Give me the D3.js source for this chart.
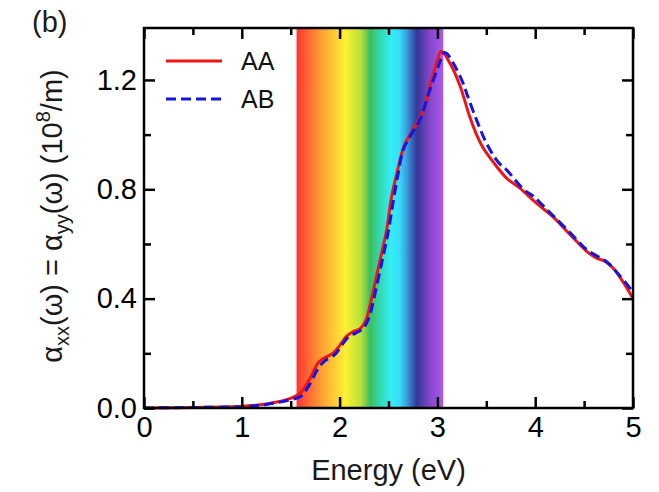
<!DOCTYPE html>
<html>
<head>
<meta charset="utf-8">
<script src="https://cdn.jsdelivr.net/npm/d3@7"></script>
<style>
  html, body { margin: 0; padding: 0; background: #fff; }
  svg { display: block; font-family: "Liberation Sans", Arial, Helvetica, sans-serif; }
</style>
</head>
<body>
<svg id="chart" width="659" height="492"></svg>
<script>
// Absorption coefficient spectra of AA- and AB-stacked bilayers
const energyAA = [0, 0.5, 1.0, 1.25, 1.5, 1.6, 1.7, 1.78, 1.83, 1.93, 2.0, 2.07, 2.14, 2.21, 2.27, 2.32, 2.4, 2.48, 2.53, 2.58, 2.62, 2.66, 2.75, 2.86, 2.94, 2.99, 3.04, 3.13, 3.23, 3.33, 3.4, 3.47, 3.57, 3.71, 3.84, 4.01, 4.18, 4.36, 4.53, 4.62, 4.72, 4.8, 4.9, 5.0];
const alphaAA  = [0, 0.002, 0.006, 0.015, 0.035, 0.055, 0.11, 0.165, 0.18, 0.2, 0.228, 0.262, 0.28, 0.29, 0.322, 0.39, 0.52, 0.65, 0.77, 0.85, 0.91, 0.96, 1.017, 1.09, 1.2, 1.26, 1.305, 1.26, 1.18, 1.066, 1.0, 0.95, 0.9, 0.84, 0.805, 0.75, 0.7, 0.633, 0.572, 0.55, 0.535, 0.51, 0.46, 0.4];

const energyAB = [0, 0.5, 1.0, 1.25, 1.5, 1.6, 1.7, 1.78, 1.84, 1.95, 2.02, 2.09, 2.17, 2.24, 2.3, 2.35, 2.43, 2.5, 2.55, 2.6, 2.65, 2.72, 2.82, 2.92, 3.01, 3.07, 3.1, 3.18, 3.26, 3.3, 3.4, 3.5, 3.62, 3.71, 3.88, 3.98, 4.15, 4.36, 4.53, 4.73, 4.85, 5.0];
const alphaAB  = [0, 0.002, 0.005, 0.013, 0.03, 0.042, 0.09, 0.145, 0.17, 0.195, 0.228, 0.26, 0.275, 0.29, 0.33, 0.4, 0.53, 0.65, 0.76, 0.86, 0.944, 0.993, 1.054, 1.16, 1.25, 1.3, 1.295, 1.25, 1.19, 1.15, 1.054, 0.97, 0.9, 0.87, 0.8, 0.775, 0.715, 0.64, 0.578, 0.535, 0.49, 0.425];

const xTicks = [0, 1, 2, 3, 4, 5];
const xMinor = [0.5, 1.5, 2.5, 3.5, 4.5];
const yTicks = [0.0, 0.4, 0.8, 1.2];
const yMinor = [0.2, 0.6, 1.0];

// Visible-light band and its colour stops
const visibleRange = [1.56, 3.06];
const spectrumStops = [
  [0.00, "#ff3333"], [0.16, "#ff9a33"], [0.33, "#fff033"], [0.44, "#b8e03a"],
  [0.50, "#3cbf5c"], [0.57, "#35d8b0"], [0.64, "#33eef2"], [0.70, "#35def8"],
  [0.75, "#3a9ee0"], [0.82, "#333796"], [0.91, "#8447cc"], [1.00, "#ad58ea"]
];

const seriesNames = ["AA", "AB"];
const seriesColors = ["#f01414", "#1414e6"];

const svg = d3.select("#chart");
const m = { left: 144, right: 633, top: 28, bottom: 408 };

const x = d3.scaleLinear().domain([0, 5]).range([m.left, m.right]);
const y = d3.scaleLinear().domain([0, 1.39]).range([m.bottom, m.top]);

// gradient for the visible band
const defs = svg.append("defs");
const grad = defs.append("linearGradient").attr("id", "rainbow")
  .attr("x1", "0%").attr("x2", "100%").attr("y1", "0%").attr("y2", "0%");
spectrumStops.forEach(([o, c]) => grad.append("stop").attr("offset", o).attr("stop-color", c));

svg.append("rect")
  .attr("x", x(visibleRange[0])).attr("y", m.top)
  .attr("width", x(visibleRange[1]) - x(visibleRange[0]))
  .attr("height", m.bottom - m.top)
  .attr("fill", "url(#rainbow)");

// curves
const lineGen = (xs) => d3.line()
  .x((d, i) => x(xs[i]))
  .y(d => y(d))
  .curve(d3.curveCatmullRom.alpha(0.5));

svg.append("path").datum(alphaAA)
  .attr("d", lineGen(energyAA))
  .attr("fill", "none").attr("stroke", seriesColors[0]).attr("stroke-width", 3);

svg.append("path").datum(alphaAB)
  .attr("d", lineGen(energyAB))
  .attr("fill", "none").attr("stroke", seriesColors[1]).attr("stroke-width", 3)
  .attr("stroke-dasharray", "10,5");

// axes: ticks inward on all four sides
const tickSize = 11, minorSize = 7, fs = 29;
const axStyle = g => {
  g.selectAll(".domain").remove();
  g.selectAll("line").attr("stroke", "#000").attr("stroke-width", 2.5);
};

svg.append("g").attr("transform", `translate(0,${m.bottom})`)
  .call(d3.axisBottom(x).tickValues(xTicks).tickSize(-tickSize).tickPadding(8).tickFormat(d3.format("d")))
  .call(axStyle)
  .call(g => g.selectAll("text").attr("font-size", fs).attr("fill", "#000").attr("font-family", "Liberation Sans, Arial, sans-serif"));
svg.append("g").attr("transform", `translate(0,${m.bottom})`)
  .call(d3.axisBottom(x).tickValues(xMinor).tickSize(-minorSize).tickFormat(""))
  .call(axStyle);
svg.append("g").attr("transform", `translate(0,${m.top})`)
  .call(d3.axisTop(x).tickValues(xTicks).tickSize(-tickSize).tickFormat(""))
  .call(axStyle);
svg.append("g").attr("transform", `translate(0,${m.top})`)
  .call(d3.axisTop(x).tickValues(xMinor).tickSize(-minorSize).tickFormat(""))
  .call(axStyle);

svg.append("g").attr("transform", `translate(${m.left},0)`)
  .call(d3.axisLeft(y).tickValues(yTicks).tickSize(-tickSize).tickPadding(7).tickFormat(d3.format(".1f")))
  .call(axStyle)
  .call(g => g.selectAll("text").attr("font-size", fs).attr("fill", "#000").attr("font-family", "Liberation Sans, Arial, sans-serif"));
svg.append("g").attr("transform", `translate(${m.left},0)`)
  .call(d3.axisLeft(y).tickValues(yMinor).tickSize(-minorSize).tickFormat(""))
  .call(axStyle);
svg.append("g").attr("transform", `translate(${m.right},0)`)
  .call(d3.axisRight(y).tickValues(yTicks).tickSize(-tickSize).tickFormat(""))
  .call(axStyle);
svg.append("g").attr("transform", `translate(${m.right},0)`)
  .call(d3.axisRight(y).tickValues(yMinor).tickSize(-minorSize).tickFormat(""))
  .call(axStyle);

// frame
svg.append("rect")
  .attr("x", m.left).attr("y", m.top)
  .attr("width", m.right - m.left).attr("height", m.bottom - m.top)
  .attr("fill", "none").attr("stroke", "#000").attr("stroke-width", 2.5);

// axis titles
svg.append("text")
  .attr("x", (m.left + m.right) / 2).attr("y", 480)
  .attr("text-anchor", "middle").attr("font-size", fs).attr("fill", "#1a1a1a")
  .text("Energy (eV)");

const yl = svg.append("text")
  .attr("transform", `translate(62,${(m.top + m.bottom) / 2 - 2}) rotate(-90)`)
  .attr("text-anchor", "middle").attr("font-size", fs).attr("fill", "#1a1a1a");
yl.append("tspan").text("α");
yl.append("tspan").attr("font-size", 20).attr("dy", 7).text("xx");
yl.append("tspan").attr("dy", -7).text("(ω) = α");
yl.append("tspan").attr("font-size", 20).attr("dy", 7).text("yy");
yl.append("tspan").attr("dy", -7).text("(ω) (10");
yl.append("tspan").attr("font-size", 20).attr("dy", -12).text("8");
yl.append("tspan").attr("dy", 12).text("/m)");

// panel tag
svg.append("text").attr("x", 32).attr("y", 32).attr("font-size", fs).attr("fill", "#1a1a1a").text("(b)");

// legend
const legend = svg.append("g");
seriesNames.forEach((name, i) => {
  const ly = 61 + i * 38;
  legend.append("line")
    .attr("x1", 166).attr("x2", 222).attr("y1", ly).attr("y2", ly)
    .attr("stroke", seriesColors[i]).attr("stroke-width", 3)
    .attr("stroke-dasharray", i === 1 ? "10,5" : null);
  legend.append("text")
    .attr("x", 241).attr("y", ly).attr("dy", "0.36em")
    .attr("font-size", 25).attr("fill", "#111").text(name);
});
</script>
</body>
</html>
